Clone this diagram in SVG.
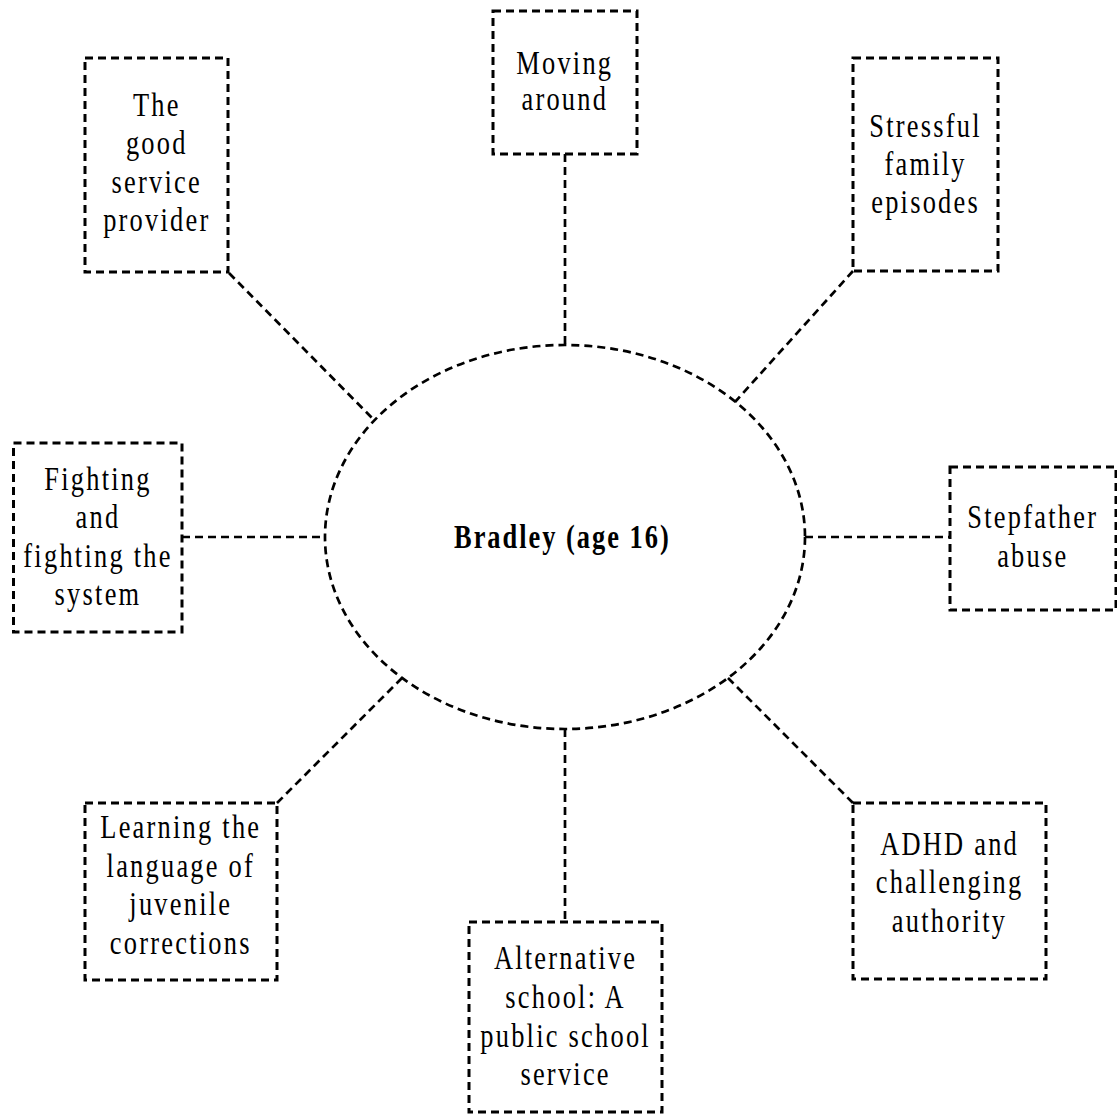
<svg xmlns="http://www.w3.org/2000/svg" width="1117" height="1114" viewBox="0 0 1117 1114">
<style>
.box{fill:none;stroke:#000;stroke-width:3;stroke-dasharray:8 5}
.ell{fill:none;stroke:#000;stroke-width:2.7;stroke-dasharray:8 5}
.conn{fill:none;stroke:#000;stroke-width:2.7;stroke-dasharray:8 5}
.t{font-family:"Liberation Serif","Times New Roman",serif;font-size:33px;letter-spacing:2.8px;text-anchor:middle;fill:#000}
.title{font-family:"Liberation Serif","Times New Roman",serif;font-size:33px;font-weight:bold;letter-spacing:2.5px;text-anchor:middle;fill:#000}
</style>
<rect width="1117" height="1114" fill="#fff"/>
<g id="connectors">
<line class="conn" x1="565" y1="154" x2="565" y2="345"/>
<line class="conn" x1="229" y1="273" x2="375" y2="421"/>
<line class="conn" x1="853" y1="271" x2="735" y2="402"/>
<line class="conn" x1="182" y1="537" x2="325" y2="537"/>
<line class="conn" x1="805" y1="537" x2="950" y2="537"/>
<line class="conn" x1="277" y1="803" x2="402" y2="678"/>
<line class="conn" x1="853" y1="803" x2="728" y2="678"/>
<line class="conn" x1="565" y1="729" x2="565" y2="922"/>
</g>
<g id="center">
<ellipse class="ell" cx="565" cy="537" rx="240" ry="192"/>
<g transform="scale(0.8 1)"><text class="title" x="703" y="548">Bradley (age 16)</text></g>
</g>
<g id="moving">
<rect class="box" x="493" y="11" width="144" height="143"/>
<g transform="scale(0.8 1)"><text class="t" x="706" y="74">Moving</text><text class="t" x="706" y="110">around</text></g>
</g>
<g id="good">
<rect class="box" x="85" y="58" width="143" height="214"/>
<g transform="scale(0.8 1)"><text class="t" x="196" y="116">The</text><text class="t" x="196" y="154.5">good</text><text class="t" x="196" y="193">service</text><text class="t" x="196" y="231.5">provider</text></g>
</g>
<g id="stressful">
<rect class="box" x="853" y="58" width="145" height="213"/>
<g transform="scale(0.8 1)"><text class="t" x="1157" y="137">Stressful</text><text class="t" x="1157" y="175">family</text><text class="t" x="1157" y="213">episodes</text></g>
</g>
<g id="fighting">
<rect class="box" x="13.5" y="443" width="168.5" height="189"/>
<g transform="scale(0.8 1)"><text class="t" x="122.5" y="490">Fighting</text><text class="t" x="122.5" y="528">and</text><text class="t" x="122.5" y="567">fighting the</text><text class="t" x="122.5" y="605">system</text></g>
</g>
<g id="stepfather">
<rect class="box" x="950" y="467" width="166" height="143"/>
<g transform="scale(0.8 1)"><text class="t" x="1291" y="528">Stepfather</text><text class="t" x="1291" y="567">abuse</text></g>
</g>
<g id="learning">
<rect class="box" x="85" y="803" width="192" height="177"/>
<g transform="scale(0.8 1)"><text class="t" x="226" y="838">Learning the</text><text class="t" x="226" y="877">language of</text><text class="t" x="226" y="915">juvenile</text><text class="t" x="226" y="954">corrections</text></g>
</g>
<g id="adhd">
<rect class="box" x="853" y="803" width="193" height="176"/>
<g transform="scale(0.8 1)"><text class="t" x="1187" y="855">ADHD and</text><text class="t" x="1187" y="893">challenging</text><text class="t" x="1187" y="932">authority</text></g>
</g>
<g id="alternative">
<rect class="box" x="469" y="922" width="193" height="190"/>
<g transform="scale(0.8 1)"><text class="t" x="707" y="969">Alternative</text><text class="t" x="707" y="1008">school: A</text><text class="t" x="707" y="1047">public school</text><text class="t" x="707" y="1085">service</text></g>
</g>
</svg>
